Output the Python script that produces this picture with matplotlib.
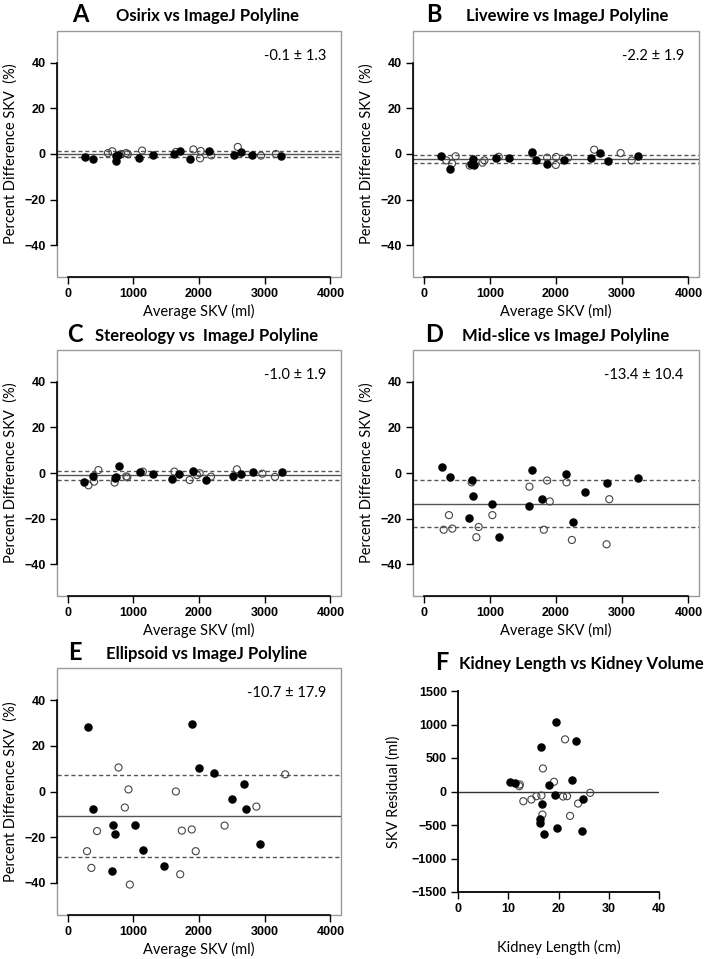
import matplotlib
matplotlib.use("Agg")
import matplotlib.pyplot as plt
from matplotlib.patches import Rectangle

W, H = 710, 959

# ---- data ----
# panel A: Osirix vs ImageJ Polyline
a_fill_x = [262, 388, 730, 740, 766, 1084, 1295, 1613, 1709, 1870, 2152, 2530, 2641, 2807, 3241]
a_fill_y = [-1.2, -2.2, -1.0, -2.9, -0.4, -1.6, -0.3, -0.1, 1.2, -2.2, 1.3, -0.3, 0.7, -0.4, -0.9]
a_open_x = [615, 680, 816, 892, 917, 1134, 1648, 1915, 2026, 2016, 2187, 2590, 2943, 3170]
a_open_y = [0.4, 1.2, 0.0, 0.4, -0.1, 1.5, 0.9, 2.0, 1.3, -1.9, -0.6, 3.1, -0.7, 0.0]
a_mean, a_sd = -0.1, 1.3

# panel B: Livewire vs ImageJ Polyline
b_fill_x = [267, 393, 711, 746, 757, 1100, 1296, 1634, 1695, 1866, 2124, 2522, 2663, 2789, 3243]
b_fill_y = [-0.7, -6.6, -4.4, -2.3, -4.8, -1.9, -1.6, 0.9, -2.5, -4.2, -2.8, -1.6, 0.4, -2.9, -1.0]
b_open_x = [343, 429, 484, 696, 888, 918, 1135, 1644, 1866, 2002, 1997, 2184, 2577, 2976, 3142]
b_open_y = [-2.8, -4.2, -1.0, -5.1, -3.8, -2.8, -1.2, 0.1, -1.6, -1.3, -4.8, -1.6, 1.9, 0.4, -2.8]
b_mean, b_sd = -2.2, 1.9

# panel C: Stereology vs ImageJ Polyline
c_fill_x = [252, 394, 722, 742, 783, 1101, 1293, 1596, 1702, 1904, 2106, 2515, 2636, 2818, 3257]
c_fill_y = [-4.1, -1.2, -2.3, -1.9, 3.2, 0.6, -0.4, -2.5, -0.3, 1.0, -3.1, -1.5, -0.4, 0.4, 0.3]
c_open_x = [318, 404, 470, 717, 894, 909, 1146, 1626, 1858, 1970, 2010, 2182, 2576, 2964, 3156]
c_open_y = [-5.4, -3.8, 1.3, -4.2, -1.5, -1.9, 0.6, 0.6, -3.1, -0.9, -0.1, -1.6, 1.6, -0.3, -1.7]
c_mean, c_sd = -1.0, 1.9

# panel D: Mid-slice vs ImageJ Polyline
d_fill_x = [277, 404, 726, 741, 686, 1039, 1145, 1639, 1599, 1796, 2149, 2436, 2255, 2764, 3233]
d_fill_y = [2.6, -1.6, -2.9, -10.3, -19.9, -13.7, -28.1, 1.5, -14.3, -11.5, -0.3, -8.4, -21.5, -4.5, -2.3]
d_open_x = [303, 383, 434, 726, 797, 832, 1039, 1599, 1816, 1866, 1906, 2159, 2240, 2764, 2805]
d_open_y = [-24.9, -18.5, -24.4, -4.1, -28.2, -23.7, -18.5, -6.0, -24.9, -3.3, -12.5, -4.1, -29.4, -31.3, -11.5]
d_mean, d_sd = -13.4, 10.4

# panel E: Ellipsoid vs ImageJ Polyline
e_fill_x = [312, 388, 685, 716, 1033, 1154, 680, 1472, 1900, 2006, 2233, 2495, 2691, 2722, 2923]
e_fill_y = [28.1, -7.5, -14.7, -18.8, -14.7, -25.6, -34.6, -32.4, 29.5, 10.3, 7.9, -3.1, 3.1, -7.5, -23.0]
e_open_x = [297, 363, 449, 776, 872, 927, 948, 1648, 1739, 1714, 1890, 1950, 2389, 2873, 3311]
e_open_y = [-26.1, -33.4, -17.3, 10.5, -7.0, 0.9, -40.7, 0.0, -17.1, -36.2, -16.6, -26.1, -14.9, -6.6, 7.5]
e_mean, e_sd = -10.7, 17.9

# panel F: Kidney Length vs Kidney Volume
f_fill_x = [10.4, 11.3, 18.1, 16.5, 19.5, 23.5, 22.6, 19.3, 16.8, 16.3, 16.4, 17.2, 19.8, 24.9, 24.7]
f_fill_y = [135, 125, 90, 663, 1037, 748, 174, -45, -194, -409, -469, -633, -548, -115, -593]
f_open_x = [12.3, 12.2, 13.0, 14.6, 15.6, 16.6, 16.8, 16.9, 19.1, 20.9, 21.7, 21.3, 22.3, 23.9, 26.3]
f_open_y = [105, 80, -145, -120, -70, -60, -344, 344, 145, -75, -70, 778, -364, -180, -20]

TITLE_FONT = "Lato"
TICK_FONT = "Liberation Sans"

fig = plt.figure(figsize=(W / 100, H / 100), dpi=100)


def px_axes(left, top, right, bottom):
    return fig.add_axes([left / W, 1 - bottom / H, (right - left) / W, (bottom - top) / H])


def ptext(x, y, s, **kw):
    fig.text(x / W, 1 - y / H, s, **kw)


def style_ticks(ax):
    ax.tick_params(direction="out", length=5, width=1, labelsize=9, pad=3)
    for lbl in ax.get_xticklabels() + ax.get_yticklabels():
        lbl.set_fontweight("bold")
        lbl.set_family(TICK_FONT)


def ba_panel(box, fx, fy, ox, oy, mean, sd):
    ax = px_axes(*box)
    ax.set_xlim(-160, 4160)
    ax.set_ylim(-54, 54)
    ax.axhline(mean, color="#555555", lw=1)
    ax.axhline(mean + sd, color="#555555", lw=1, ls=(0, (3, 2)))
    ax.axhline(mean - sd, color="#555555", lw=1, ls=(0, (3, 2)))
    ax.scatter(ox, oy, s=26, facecolors="none", edgecolors="#444444", linewidths=0.8, zorder=3)
    ax.scatter(fx, fy, s=26, c="black", zorder=4)
    ax.add_patch(Rectangle((0, 0), 1, 1, transform=ax.transAxes, fill=False,
                           ec="#999999", lw=1, clip_on=False, zorder=1))
    for side in ["top", "right"]:
        ax.spines[side].set_visible(False)
    ax.spines["left"].set_bounds(-40, 40)
    ax.spines["bottom"].set_bounds(0, 4000)
    ax.spines["left"].set_linewidth(1.2)
    ax.spines["bottom"].set_linewidth(1.2)
    ax.set_xticks([0, 1000, 2000, 3000, 4000])
    ax.set_yticks([-40, -20, 0, 20, 40])
    style_ticks(ax)
    ax.set_xlabel("Average SKV (ml)", family=TITLE_FONT, fontsize=10.5, labelpad=3)
    ax.set_ylabel("Percent Difference SKV  (%)", family=TITLE_FONT, fontsize=10.5, labelpad=5)
    ax.text(3930, 43, f"{mean:.1f} \u00b1 {sd:.1f}", ha="right", va="center",
            family=TITLE_FONT, fontsize=10.5)
    return ax


ba_panel((57, 31, 341, 277), a_fill_x, a_fill_y, a_open_x, a_open_y, a_mean, a_sd)
ba_panel((413, 31, 699, 277), b_fill_x, b_fill_y, b_open_x, b_open_y, b_mean, b_sd)
ba_panel((57, 350, 341, 596), c_fill_x, c_fill_y, c_open_x, c_open_y, c_mean, c_sd)
ba_panel((413, 350, 699, 596), d_fill_x, d_fill_y, d_open_x, d_open_y, d_mean, d_sd)
ba_panel((57, 668, 341, 915), e_fill_x, e_fill_y, e_open_x, e_open_y, e_mean, e_sd)

# panel F
axf = px_axes(458, 691, 659, 892)
axf.set_xlim(0, 40)
axf.set_ylim(-1500, 1500)
axf.axhline(0, color="#333333", lw=1)
axf.scatter(f_open_x, f_open_y, s=26, facecolors="none", edgecolors="#444444", linewidths=0.8, zorder=3)
axf.scatter(f_fill_x, f_fill_y, s=26, c="black", zorder=4)
for side in ["top", "right"]:
    axf.spines[side].set_visible(False)
axf.spines["left"].set_linewidth(1.3)
axf.spines["bottom"].set_linewidth(1.3)
axf.set_xticks([0, 10, 20, 30, 40])
axf.set_yticks([-1500, -1000, -500, 0, 500, 1000, 1500])
style_ticks(axf)
axf.set_xlabel("Kidney Length (cm)", family=TITLE_FONT, fontsize=10.5, labelpad=18)
axf.set_ylabel("SKV Residual (ml)", family=TITLE_FONT, fontsize=10.5, labelpad=8)

# panel letters and titles
letters = ["A", "B", "C", "D", "E", "F"]
titles = ["Osirix vs ImageJ Polyline", "Livewire vs ImageJ Polyline",
          "Stereology vs  ImageJ Polyline", "Mid-slice vs ImageJ Polyline",
          "Ellipsoid vs ImageJ Polyline", "Kidney Length vs Kidney Volume"]
letter_pos = [(80, 15), (434, 15), (75, 335), (434, 335), (75, 653), (442, 663)]
title_pos = [(207, 16), (567, 16), (207, 336), (566, 336), (207, 654), (581, 664)]
for l, t, lp, tp in zip(letters, titles, letter_pos, title_pos):
    ptext(lp[0], lp[1], l, ha="center", va="center", family=TITLE_FONT,
          fontweight="bold", fontsize=17)
    ptext(tp[0], tp[1], t, ha="center", va="center", family=TITLE_FONT,
          fontweight="bold", fontsize=12)

fig.savefig("out.png", dpi=100)
